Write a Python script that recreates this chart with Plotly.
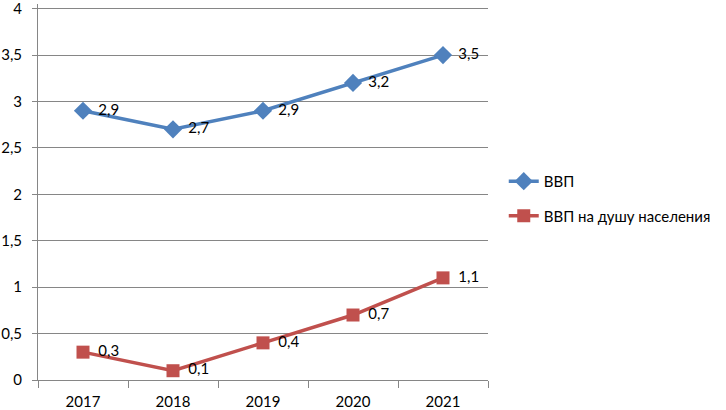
import plotly.graph_objects as go

years = ["2017", "2018", "2019", "2020", "2021"]
gdp = [2.9, 2.7, 2.9, 3.2, 3.5]
gdp_per_capita = [0.3, 0.1, 0.4, 0.7, 1.1]
series_names = ["ВВП", "ВВП на душу населения"]
y_ticks = [0, 0.5, 1, 1.5, 2, 2.5, 3, 3.5, 4]
y_tick_text = ["0", "0,5", "1", "1,5", "2", "2,5", "3", "3,5", "4"]

blue = "#4F81BD"
red = "#C0504D"
grid = "#868686"
font = "Lato, Open Sans, sans-serif"

def fmt(v):
    return ("%g" % v).replace(".", ",")

fig = go.Figure()
fig.add_trace(go.Scatter(
    x=years, y=gdp, name=series_names[0], mode="lines+markers",
    line=dict(color=blue, width=3.5),
    marker=dict(symbol="diamond", size=14, color=blue),
    legendgroup="a",
))
fig.add_trace(go.Scatter(
    x=years, y=gdp_per_capita, name=series_names[1], mode="lines+markers",
    line=dict(color=red, width=3.5),
    marker=dict(symbol="square", size=13, color=red),
    legendgroup="b",
))
for ys in (gdp, gdp_per_capita):
    fig.add_trace(go.Scatter(
        x=years, y=ys, mode="text", showlegend=False, hoverinfo="skip",
        text=["    " + fmt(v) for v in ys], textposition="middle right",
        textfont=dict(family=font, size=15, color="#000000"),
        cliponaxis=False,
    ))

fig.update_layout(
    width=726, height=410,
    margin=dict(l=38, r=238, t=4, b=30, autoexpand=False),
    paper_bgcolor="white", plot_bgcolor="white",
    separators=", ",
    font=dict(family=font, size=15, color="#000000"),
    legend=dict(x=1.035, y=0.572, xanchor="left", yanchor="top",
                tracegroupgap=12, font=dict(family=font, size=15),
                bgcolor="rgba(0,0,0,0)"),
    showlegend=True,
)
fig.update_xaxes(
    type="category", range=[-0.5, 4.5], showgrid=False,
    showline=True, linecolor=grid, linewidth=1,
    ticks="outside", tickson="boundaries", ticklen=7, tickcolor=grid,
    tickfont=dict(family=font, size=15), automargin=False,
    ticklabelstandoff=8, ticklabeloverflow="allow",
)
fig.update_yaxes(
    range=[0, 4.05], tickvals=y_ticks, ticktext=y_tick_text,
    showgrid=True, gridcolor=grid, gridwidth=1,
    showline=True, linecolor=grid, linewidth=1, zeroline=False,
    ticks="outside", ticklen=5, tickcolor=grid,
    tickfont=dict(family=font, size=15), automargin=False,
    ticklabelstandoff=7, ticklabeloverflow="allow",
)
fig.write_html("out.html", config={"displayModeBar": False},
               post_script="document.body.style.margin='0';document.body.style.overflow='hidden';")
